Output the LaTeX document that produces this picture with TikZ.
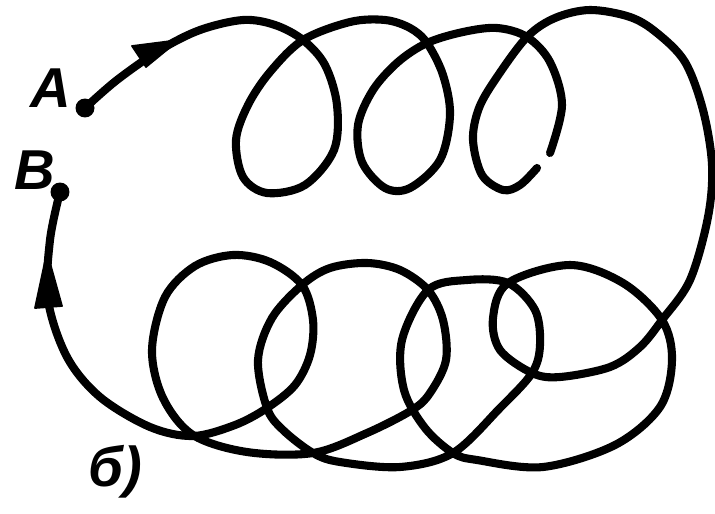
\documentclass[tikz,border=0pt]{standalone}
\usepackage{fontspec}
\setmainfont{Liberation Sans}

\begin{document}
\begin{tikzpicture}[x=0.02cm, y=-0.02cm,
    trackline/.style={line width=4.6pt, line cap=round, line join=round},
    headfill/.style={fill, draw, line width=1pt, line join=round},
    caption/.style={font=\fontsize{32}{34}\selectfont\bfseries\itshape}]
    \useasboundingbox (0,0) rectangle (715,513);

    \coordinate (A) at (85,108);
    \coordinate (B) at (60,192);
    \coordinate (gapS) at (550,153);
    \coordinate (gapE) at (537,168);
    % arrow heads: tip and two back corners
    \coordinate (tipA) at (179,40);
    \coordinate (tipA1) at (132,46);
    \coordinate (tipA2) at (146,67);
    \coordinate (tipB) at (47,252);
    \coordinate (tipB1) at (35,308);
    \coordinate (tipB2) at (62,306);
    \fill (A) circle[radius=0.19cm];
    \fill (B) circle[radius=0.19cm];

    \node[caption] (labA) at (51,88) {A};
    \node[caption] (labB) at (35,170) {B};
    \node[caption] (labb) at (115,472) {б)};

    % upper row of loops, from A to the break in the third loop
    \draw[trackline] plot[smooth, tension=0.55] coordinates {
        (A) (117,80) (160,50) (200,30) (243,20) (275,25) (303,40)
        (325,65) (337,105) (334,150) (305,185) (267,193) (243,177)
        (236,140) (248,105) (270,72) (303,40)
        (350,22) (385,20) (410,28) (427,43)
        (443,75) (450,115) (440,160) (410,188) (385,188) (362,162)
        (358,125) (373,90) (398,62) (427,43)
        (463,32) (497,28) (527,37)
        (550,62) (562,105) (gapS)};

    % rest: big arc, lower row of loops, back to B
    \draw[trackline] plot[smooth, tension=0.55] coordinates {
        (gapE) (520,185) (503,190) (482,175) (473,140) (479,108) (497,77) (527,37)
        (555,18) (590,10) (630,17) (657,33) (685,62) (703,110) (712,165)
        (708,217) (690,280) (662,320)
        (640,347) (610,367) (560,377) (532,373) (500,350) (493,318) (508,283)
        (570,265) (623,283) (662,320) (672,360) (660,407) (615,445) (543,467)
        (477,460) (453,453) (425,428) (404,390) (402,340) (428,290)
        (467,280) (508,283) (535,310) (540,345) (532,373) (500,408) (453,453)
        (400,467) (340,462) (313,453) (283,430) (267,408) (258,360) (272,318)
        (302,285) (330,268) (367,263) (400,270) (428,290) (443,320) (446,360)
        (430,393) (412,410) (367,433) (313,453) (247,452) (193,435)
        (163,398) (152,350) (165,297) (195,266) (233,255) (270,262) (302,285)
        (313,320) (310,355) (295,385) (267,408) (235,425) (193,436)
        (150,427) (100,397) (67,357) (48,300) (50,240) (B)};

    % direction arrows
    \path[headfill] (tipA) -- (tipA1) -- (tipA2) -- cycle;
    \path[headfill] (tipB) -- (tipB1) -- (tipB2) -- cycle;
\end{tikzpicture}
\end{document}
